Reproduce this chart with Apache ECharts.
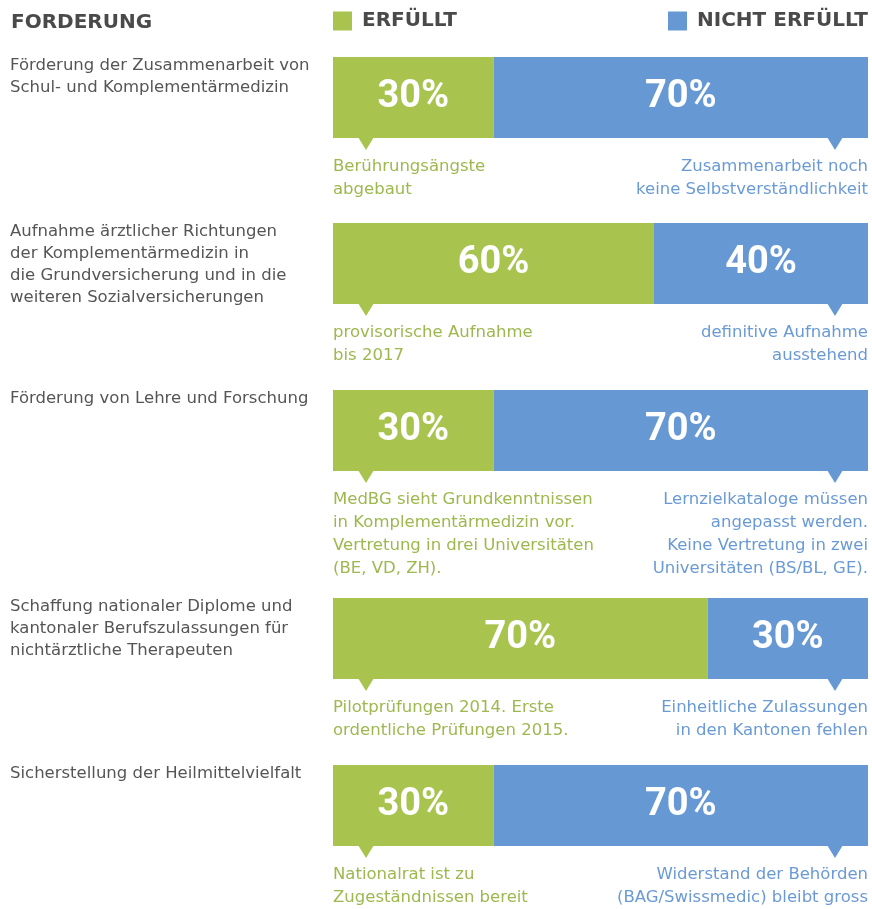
<!DOCTYPE html>
<html>
<head>
<meta charset="utf-8">
<script src="https://cdn.jsdelivr.net/npm/echarts@6/dist/echarts.min.js"></script>
<style>
  html, body { margin: 0; padding: 0; background: #fff; }
  #chart { width: 872px; height: 909px; }
</style>
</head>
<body>
<div id="chart"></div>
<script>
// Forderungen und Erfüllungsgrad
var forderungen = [
  'Förderung der Zusammenarbeit von\nSchul- und Komplementärmedizin',
  'Aufnahme ärztlicher Richtungen\nder Komplementärmedizin in\ndie Grundversicherung und in die\nweiteren Sozialversicherungen',
  'Förderung von Lehre und Forschung',
  'Schaffung nationaler Diplome und\nkantonaler Berufszulassungen für\nnichtärztliche Therapeuten',
  'Sicherstellung der Heilmittelvielfalt'
];
var erfuellt = [30, 60, 30, 70, 30];
var nichtErfuellt = [70, 40, 70, 30, 70];
var notizErfuellt = [
  'Berührungsängste\nabgebaut',
  'provisorische Aufnahme\nbis 2017',
  'MedBG sieht Grundkenntnissen\nin Komplementärmedizin vor.\nVertretung in drei Universitäten\n(BE, VD, ZH).',
  'Pilotprüfungen 2014. Erste\nordentliche Prüfungen 2015.',
  'Nationalrat ist zu\nZugeständnissen bereit'
];
var notizNicht = [
  'Zusammenarbeit noch\nkeine Selbstverständlichkeit',
  'definitive Aufnahme\nausstehend',
  'Lernzielkataloge müssen\nangepasst werden.\nKeine Vertretung in zwei\nUniversitäten (BS/BL, GE).',
  'Einheitliche Zulassungen\nin den Kantonen fehlen',
  'Widerstand der Behörden\n(BAG/Swissmedic) bleibt gross'
];

var GRUEN = '#a8c44f';
var BLAU = '#6699d4';
var GRUEN_TXT = '#9db84e';
var BLAU_TXT = '#6a9ad6';
var GRAU = '#555555';
var gridTops = [57, 223, 390, 598, 765];
var barH = 81;

var myChart = echarts.init(document.getElementById('chart'));

var grids = [], xAxes = [], yAxes = [], series = [];
for (var i = 0; i < forderungen.length; i++) {
  grids.push({ left: 333, right: 4, top: gridTops[i], height: barH });
  xAxes.push({ type: 'value', gridIndex: i, min: 0, max: 100, show: false });
  yAxes.push({ type: 'category', gridIndex: i, data: [forderungen[i]], show: false });
  var lbl = {
    show: true, position: 'inside', formatter: '{c}%',
    color: '#fff', fontSize: 38, fontWeight: 'bold', fontFamily: 'Roboto'
  };
  series.push({
    name: 'ERFÜLLT', type: 'bar', xAxisIndex: i, yAxisIndex: i, stack: 's' + i,
    barWidth: '100%', data: [erfuellt[i]], itemStyle: { color: GRUEN }, label: lbl
  });
  series.push({
    name: 'NICHT ERFÜLLT', type: 'bar', xAxisIndex: i, yAxisIndex: i, stack: 's' + i,
    barWidth: '100%', data: [nichtErfuellt[i]], itemStyle: { color: BLAU }, label: lbl
  });
}

var legendText = { fontSize: 20, fontWeight: 'bold', color: '#4a4a4a', fontFamily: 'DejaVu Sans', padding: [0, 0, 0, 5] };

option = {
  backgroundColor: '#fff',
  animation: false,
  title: {
    text: 'FORDERUNG', left: 6, top: 8,
    textStyle: { fontSize: 20, fontWeight: 'bold', color: '#4a4a4a', fontFamily: 'DejaVu Sans' }
  },
  legend: [
    { data: ['ERFÜLLT'], left: 333, top: 11, icon: 'rect', itemWidth: 19, itemHeight: 19,
      selectedMode: false, padding: 0, textStyle: legendText },
    { data: ['NICHT ERFÜLLT'], right: 4, top: 11, icon: 'rect', itemWidth: 19, itemHeight: 19,
      selectedMode: false, padding: 0, textStyle: legendText }
  ],
  grid: grids,
  xAxis: xAxes,
  yAxis: yAxes,
  series: series
};
myChart.setOption(option);

// Texte und Pfeile an den Balken ausrichten
var graphic = [];
var bodyFont = '16.5px "DejaVu Sans"';
for (var i = 0; i < forderungen.length; i++) {
  var x0 = myChart.convertToPixel({ xAxisIndex: i }, 0);
  var x1 = myChart.convertToPixel({ xAxisIndex: i }, 100);
  var yc = myChart.convertToPixel({ yAxisIndex: i }, forderungen[i]);
  var barTop = yc - barH / 2, barBottom = yc + barH / 2;
  graphic.push({
    type: 'text', x: 10, y: barTop - 2,
    style: { text: forderungen[i], fill: GRAU, font: bodyFont, lineHeight: 22, textVerticalAlign: 'top' }
  });
  graphic.push({
    type: 'polygon', shape: { points: [[x0 + 25, barBottom - 1], [x0 + 41, barBottom - 1], [x0 + 33, barBottom + 12]] },
    style: { fill: GRUEN }
  });
  graphic.push({
    type: 'polygon', shape: { points: [[x1 - 41, barBottom - 1], [x1 - 25, barBottom - 1], [x1 - 33, barBottom + 12]] },
    style: { fill: BLAU }
  });
  graphic.push({
    type: 'text', x: x0, y: barBottom + 17,
    style: { text: notizErfuellt[i], fill: GRUEN_TXT, font: bodyFont, lineHeight: 23, textVerticalAlign: 'top' }
  });
  graphic.push({
    type: 'text', x: x1, y: barBottom + 17,
    style: { text: notizNicht[i], fill: BLAU_TXT, font: bodyFont, lineHeight: 23, textAlign: 'right', textVerticalAlign: 'top' }
  });
}
myChart.setOption({ graphic: graphic });

window.addEventListener('resize', function () {
  myChart.resize();
});
</script>
</body>
</html>
